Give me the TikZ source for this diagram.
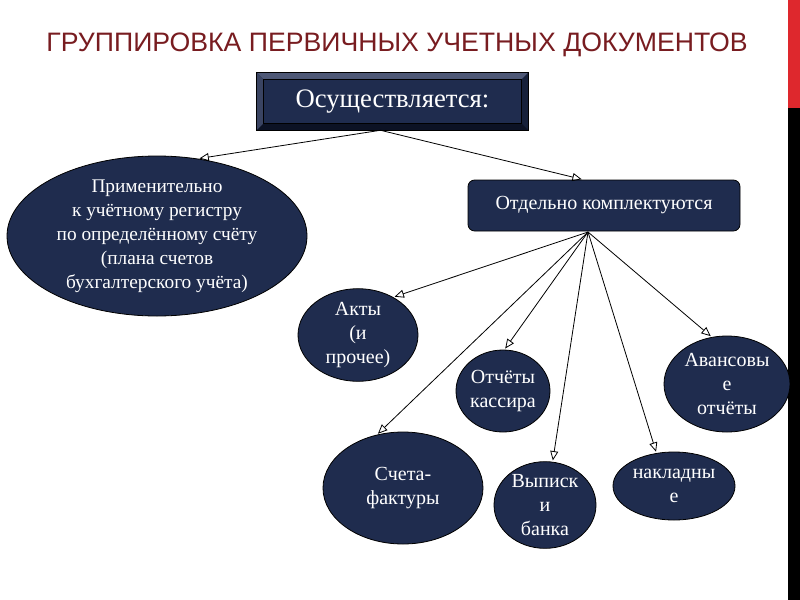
\documentclass[tikz,border=0pt]{standalone}
\usepackage{fontspec}
\setmainfont{Liberation Serif}
\newfontfamily\titlefont{Liberation Sans}
\usetikzlibrary{shapes.geometric,arrows.meta,calc}
\definecolor{navy}{RGB}{31,44,78}
\definecolor{titlered}{RGB}{120,28,32}
\definecolor{barred}{RGB}{222,40,45}
\definecolor{bevtop}{RGB}{78,88,118}
\definecolor{bevleft}{RGB}{58,68,98}
\definecolor{bevright}{RGB}{22,32,58}
\definecolor{bevbot}{RGB}{12,18,36}
\begin{document}
\begin{tikzpicture}[x=0.75pt,y=-0.75pt,
  ell/.style={ellipse, draw=black, fill=navy, text=white, inner sep=0pt, align=center,
              font=\fontsize{15}{18}\selectfont, line width=0.6pt},
  arr/.style={-{Triangle[open,length=7pt,width=6pt]}, line width=0.6pt, shorten >=1pt}]
\path[use as bounding box] (0,0) rectangle (800,600);
\fill[white] (0,0) rectangle (800,600);
\fill[barred] (788,0) rectangle (800,108);
\fill[black] (788,108) rectangle (800,600);
\node[text=titlered, font=\titlefont\fontsize{20}{24}\selectfont, inner sep=0pt] (title) at (397,45)
  {ГРУППИРОВКА ПЕРВИЧНЫХ УЧЕТНЫХ ДОКУМЕНТОВ};
% bevel box
\node[draw=black, fill=navy, text=white, minimum width=203.25pt, minimum height=42.75pt,
      inner sep=0pt, font=\fontsize{20}{24}\selectfont] (osu) at (392.5,101.5) {Осуществляется:};
\fill[bevtop] (osu.north west) -- (osu.north east) -- ($(osu.north east)+(-7,7)$) -- ($(osu.north west)+(7,7)$) -- cycle;
\fill[bevleft] (osu.north west) -- ($(osu.north west)+(7,7)$) -- ($(osu.south west)+(7,-7)$) -- (osu.south west) -- cycle;
\fill[bevright] (osu.north east) -- (osu.south east) -- ($(osu.south east)+(-7,-7)$) -- ($(osu.north east)+(-7,7)$) -- cycle;
\fill[bevbot] (osu.south west) -- (osu.south east) -- ($(osu.south east)+(-7,-7)$) -- ($(osu.south west)+(7,-7)$) -- cycle;
\draw[black, line width=0.6pt] (osu.north west) rectangle (osu.south east);
\draw[black, line width=0.4pt] ($(osu.north west)+(7,7)$) rectangle ($(osu.south east)+(-7,-7)$);
\coordinate (osubot) at ($(osu.south)+(-12,0)$);
% left ellipse
\node[ell, minimum width=225pt, minimum height=120pt, font=\fontsize{14.5}{18}\selectfont] (appl) at (157,236)
  {Применительно\\к учётному регистру\\по определённому счёту\\(плана счетов\\бухгалтерского учёта)};
% rect
\node[draw=black, fill=navy, text=white, rounded corners=5pt, minimum width=204pt, minimum height=38.25pt,
      inner sep=0pt, font=\fontsize{15}{18}\selectfont, line width=0.6pt] (sep) at (604,205.5) {Отдельно комплектуются};
\coordinate (hub) at (588,232);
% small ellipses
\node[ell, minimum width=90pt, minimum height=63pt] (akty) at (358,335) {Акты\\(и\\прочее)};
\node[ell, minimum width=70.5pt, minimum height=61.5pt] (kass) at (503,391) {Отчёты\\кассира};
\node[ell, minimum width=120pt, minimum height=84pt] (sf) at (403,488) {Счета-\\фактуры};
\node[ell, minimum width=76.5pt, minimum height=63pt] (vyp) at (545,505) {Выписк\\и\\банка};
\node[ell, minimum width=91.5pt, minimum height=51pt] (nakl) at (674,486) {накладны\\е};
\node[ell, minimum width=94.5pt, minimum height=72pt] (avans) at (727,384) {Авансовы\\е\\отчёты};
% connectors
\draw[arr] (osubot) -- (appl.62);
\draw[arr] (osubot) -- (sep.129);
\draw[arr] (hub) -- (akty.47);
\draw[arr] (hub) -- (kass.88);
\draw[arr] (hub) -- (sf.116);
\draw[arr] (hub) -- (vyp.80);
\draw[arr] (hub) -- (nakl.118);
\draw[arr] (hub) -- (avans.108);
\end{tikzpicture}
\end{document}
